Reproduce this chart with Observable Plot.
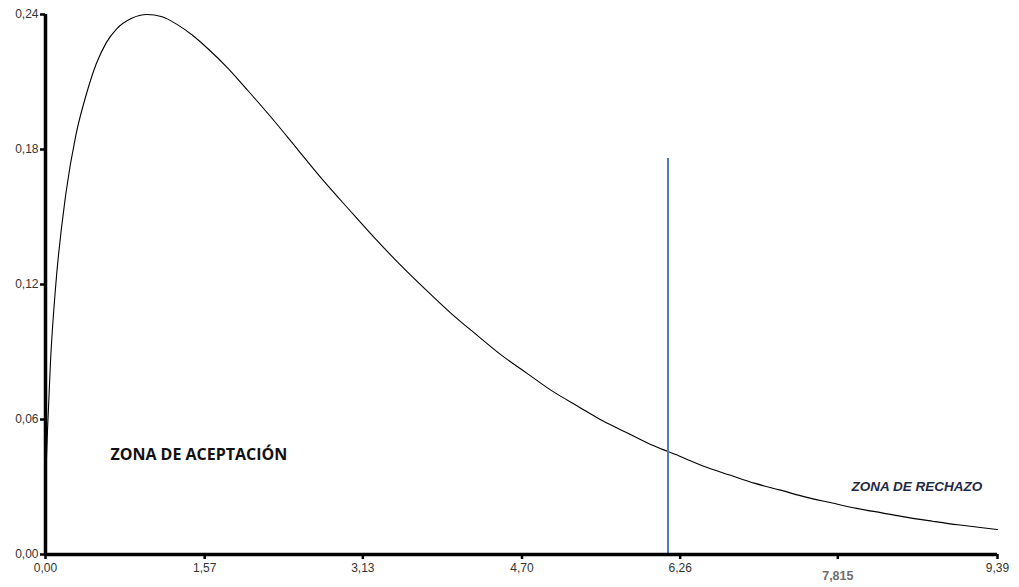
<!DOCTYPE html>
<html>
<head>
<meta charset="utf-8">
<script src="https://cdn.jsdelivr.net/npm/d3@7"></script>
<script src="https://cdn.jsdelivr.net/npm/@observablehq/plot@0.6"></script>
<style>
  html, body { margin: 0; padding: 0; background: #fff; }
  #chart svg { display: block; }
</style>
</head>
<body>
<div id="chart"></div>
<script>
// Curve values
const curveX = [0, 0.02, 0.05, 0.1, 0.2, 0.3, 0.4, 0.5, 0.6, 0.7, 0.85, 1.0, 1.15, 1.3, 1.45, 1.6, 1.8, 2.0, 2.25, 2.5, 2.75, 3.0, 3.25, 3.5, 3.75, 4.0, 4.25, 4.5, 4.75, 5.0, 5.25, 5.5, 5.75, 6.0, 6.25, 6.5, 6.75, 7.0, 7.25, 7.5, 7.75, 8.0, 8.25, 8.5, 8.75, 9.0, 9.2, 9.39];
const curveY = [0.0310, 0.0554, 0.0864, 0.1191, 0.1601, 0.1865, 0.2041, 0.2180, 0.2275, 0.2335, 0.2383, 0.2400, 0.2390, 0.2355, 0.2308, 0.2249, 0.2161, 0.2060, 0.1930, 0.1793, 0.1657, 0.1530, 0.1405, 0.1287, 0.1177, 0.1072, 0.0977, 0.0885, 0.0805, 0.0726, 0.0659, 0.0593, 0.0538, 0.0483, 0.0438, 0.0391, 0.0353, 0.0316, 0.0286, 0.0255, 0.0230, 0.0205, 0.0185, 0.0165, 0.0148, 0.0132, 0.0121, 0.0111];
const curve = curveX.map((x, i) => ({x, y: curveY[i]}));

const xTicks = [0, 1.57, 3.13, 4.70, 6.26, 9.39];
const xTickLabels = ["0,00", "1,57", "3,13", "4,70", "6,26", "9,39"];
const criticalTick = [7.815];
const criticalLabel = ["7,815"];
const yTicks = [0, 0.06, 0.12, 0.18, 0.24];
const yTickLabels = ["0,00", "0,06", "0,12", "0,18", "0,24"];

const cutX = [6.14];
const cutTop = [0.176];

const zoneLabels = ["ZONA DE ACEPTACIÓN", "ZONA DE RECHAZO"];
const zoneX = [0.64, 7.95];
const zoneY = [0.0445, 0.030];

const cut = cutX.map((x, i) => ({x, y1: 0, y2: cutTop[i]}));

const chart = Plot.plot({
  width: 1019,
  height: 587,
  marginLeft: 45,
  marginRight: 22,
  marginTop: 14,
  marginBottom: 33,
  x: {domain: [0, 9.39]},
  y: {domain: [0, 0.24]},
  style: {fontFamily: "Liberation Sans, Arial, sans-serif", background: "#fff"},
  marks: [
    Plot.axisX(xTicks, {
      tickSize: 5, strokeWidth: 2.5, stroke: "#000",
      tickFormat: (d) => xTickLabels[xTicks.indexOf(d)],
      fontSize: 12, fill: "#333", tickPadding: 4, label: null
    }),
    Plot.axisX(criticalTick, {
      tickSize: 5, strokeWidth: 2.5, stroke: "#000",
      tickFormat: (d) => criticalLabel[criticalTick.indexOf(d)],
      fontSize: 12.5, fontWeight: "bold", fill: "#6e6e6e", tickPadding: 12, label: null
    }),
    Plot.axisY(yTicks, {
      tickSize: 5, strokeWidth: 2.5, stroke: "#000",
      tickFormat: (d) => yTickLabels[yTicks.indexOf(d)],
      fontSize: 12, fill: "#333", tickPadding: 2, label: null
    }),
    Plot.line(curve, {x: "x", y: "y", stroke: "#000", strokeWidth: 1.1, curve: "monotone-x"}),
    Plot.ruleX(cut, {x: "x", y1: "y1", y2: "y2", stroke: "#4a7fc1", strokeWidth: 2}),
    Plot.ruleY([0], {stroke: "#000", strokeWidth: 3.5}),
    Plot.ruleX([0], {stroke: "#000", strokeWidth: 3.5}),
    Plot.text([zoneLabels[0]], {
      x: [zoneX[0]], y: [zoneY[0]], text: (d) => d, textAnchor: "start",
      fontFamily: "Open Sans, sans-serif", fontWeight: "bold", fontSize: 16, fill: "#111"
    }),
    Plot.text([zoneLabels[1]], {
      x: [zoneX[1]], y: [zoneY[1]], text: (d) => d, textAnchor: "start",
      fontFamily: "Liberation Sans, Arial, sans-serif", fontWeight: "bold", fontStyle: "italic", fontSize: 13.5, fill: "#1f2a44"
    })
  ]
});
document.getElementById("chart").appendChild(chart);
</script>
</body>
</html>
